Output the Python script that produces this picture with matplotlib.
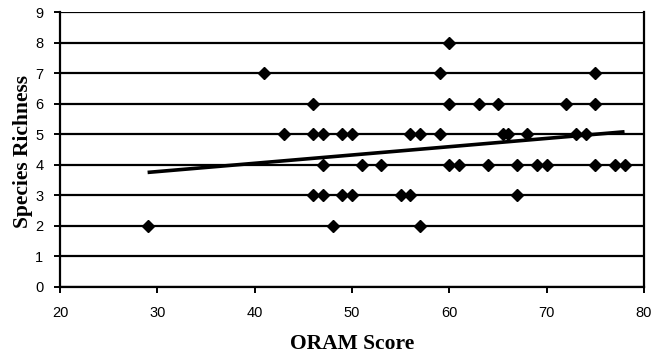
import numpy as np
import matplotlib
matplotlib.use("Agg")
import matplotlib.pyplot as plt

# Data (ORAM score, species richness)
oram_scores = [60,
               41, 59, 75,
               46, 60, 63, 65, 72, 75,
               43, 46, 47, 49, 50, 56, 57, 59, 65.5, 66, 68, 73, 74,
               47, 51, 53, 60, 61, 64, 67, 69, 70, 75, 77, 78,
               46, 47, 49, 50, 55, 56, 67,
               29, 48, 57]
species_richness = [8,
                    7, 7, 7,
                    6, 6, 6, 6, 6, 6,
                    5, 5, 5, 5, 5, 5, 5, 5, 5, 5, 5, 5, 5,
                    4, 4, 4, 4, 4, 4, 4, 4, 4, 4, 4, 4,
                    3, 3, 3, 3, 3, 3, 3,
                    2, 2, 2]
# Linear trendline (value at min and max score)
trend_x = [29, 78]
trend_y = [3.75, 5.08]
x_ticks = [20, 30, 40, 50, 60, 70, 80]
y_ticks = [0, 1, 2, 3, 4, 5, 6, 7, 8, 9]

x = np.array(oram_scores, dtype=float)
y = np.array(species_richness, dtype=float)

fig = plt.figure(figsize=(6.65, 3.56), dpi=100)
ax = fig.add_axes([60/665, 1-287/356, (644-60)/665, (287-12)/356])

for yt in y_ticks:
    ax.axhline(yt, color="black", lw=1.6, zorder=1)

ax.plot(x, y, linestyle="none", marker="D", ms=6.2, color="black", zorder=3)
ax.plot(trend_x, trend_y, color="black", lw=2.6, zorder=2, solid_capstyle="butt")

ax.set_xlim(20, 80)
ax.set_ylim(0, 9)
ax.set_xticks(x_ticks)
ax.set_yticks(y_ticks)
ax.spines["top"].set_visible(False)
for s in ["left", "right", "bottom"]:
    ax.spines[s].set_linewidth(1.6)
ax.tick_params(direction="out", length=4, width=1.4, labelsize=10.5)
ax.tick_params(axis="x", pad=10)
ax.tick_params(axis="y", pad=8)
for lab in ax.get_xticklabels() + ax.get_yticklabels():
    lab.set_family("Liberation Sans")

ax.set_xlabel("ORAM Score", fontfamily="Liberation Serif", fontweight="bold", fontsize=15.5)
ax.set_ylabel("Species Richness", fontfamily="Liberation Serif", fontweight="bold", fontsize=15.5)
ax.xaxis.set_label_coords(0.5, (287-334)/275)
ax.yaxis.set_label_coords((33-60)/584, (287-152)/275)

fig.savefig("out.png", dpi=100)
